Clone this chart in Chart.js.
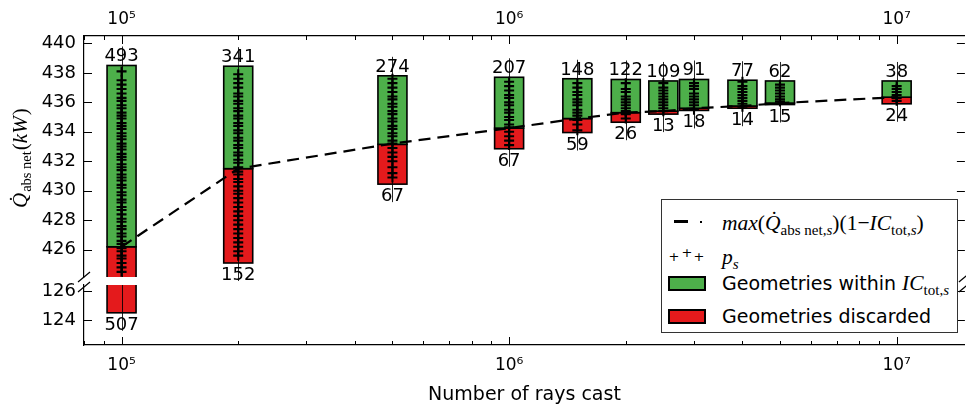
<!DOCTYPE html>
<html><head><meta charset="utf-8">
<script src="https://cdn.jsdelivr.net/npm/chart.js@4/dist/chart.umd.min.js"></script>
<style>
html,body{margin:0;padding:0;background:#fff;overflow:hidden;width:966px;height:408px;}
#wrap{position:relative;width:966px;height:408px;overflow:hidden;}
.cv{position:absolute;left:0;top:0;}
#legend{position:absolute;left:661px;top:199px;width:297px;height:134px;border:1px solid #333;background:#fff;box-sizing:border-box;font-family:'DejaVu Sans';color:#000;}
#legend .row{position:absolute;left:60px;height:30px;line-height:30px;white-space:nowrap;}
#legend .m{font-family:'Liberation Serif';font-size:21.5px;}
#legend .m i{font-style:italic;}
#legend sub{font-size:0.7em;vertical-align:-0.3em;line-height:0;}
#legend .t{font-size:19px;}
#legend .sw{position:absolute;left:6px;width:38px;height:15px;border:2px solid #000;box-sizing:border-box;}
#legend .pl{position:absolute;font-size:13px;line-height:13px;transform:translate(-50%,-50%);}
</style></head>
<body><div id="wrap">
<canvas id="upper" class="cv" width="972" height="408"></canvas>
<canvas id="lower" class="cv" width="972" height="408"></canvas>
<div id="legend">
  <div style="position:absolute;left:12px;top:20px;width:14px;height:3px;background:#000"></div>
  <div style="position:absolute;left:38px;top:21px;width:2px;height:2px;background:#000"></div>
  <div class="row m" style="top:8px"><i>max</i>(<i>Q&#775;</i><sub>abs net,<i>s</i></sub>)(1&#8722;<i>IC</i><sub>tot,<i>s</i></sub>)</div>
  <span class="pl" style="left:12px;top:56px">+</span>
  <span class="pl" style="left:25px;top:52px">+</span>
  <span class="pl" style="left:37px;top:56px">+</span>
  <div class="row m" style="top:42px"><i>p</i><sub><i>s</i></sub></div>
  <div class="sw" style="top:76px;background:#4daf4a"></div>
  <div class="row" style="top:68px"><span class="t">Geometries within </span><span class="m"><i>IC</i><sub>tot,<i>s</i></sub></span></div>
  <div class="sw" style="top:109px;background:#e41a1c"></div>
  <div class="row t" style="top:101px">Geometries discarded</div>
</div>
</div>
<script>
// ---------------- data ----------------
const rays = [1e5, 2e5, 5e5, 1e6, 1.5e6, 2e6, 2.5e6, 3e6, 4e6, 5e6, 1e7];
const withinTop      = [438.5, 438.45, 437.8, 437.7, 437.6, 437.55, 437.45, 437.55, 437.5, 437.45, 437.45];
const withinBottom   = [426.2, 431.5, 433.15, 434.25, 434.9, 435.3, 435.4, 435.6, 435.75, 435.95, 436.35];
const discardedTop   = [426.2, 431.5, 433.15, 434.25, 434.9, 435.3, 435.4, 435.6, 435.75, 435.95, 436.35];
const discardedBottom= [124.5, 425.1, 430.45, 432.85, 433.95, 434.65, 435.2, 435.45, 435.6, 435.85, 435.9];
const thresholdQ     = [426.2, 431.5, 433.2, 434.25, 434.9, 435.3, 435.4, 435.6, 435.75, 435.95, 436.35];
const withinCount    = [493, 341, 274, 207, 148, 122, 109, 91, 77, 62, 38];
const discardedCount = [507, 152, 67, 67, 59, 26, 13, 18, 14, 15, 24];

const ps1e5 = [438.1, 437.5, 437.2, 436.9, 436.6, 436.3, 436.1, 435.8, 435.6, 435.3, 435.1, 434.9, 434.6, 434.4, 434.2, 433.9, 433.7, 433.5, 433.2, 433.0, 432.8, 432.5, 432.3, 432.1, 431.8, 431.6, 431.4, 431.1, 430.9, 430.7, 430.4, 430.2, 429.9, 429.7, 429.4, 429.2, 428.9, 428.7, 428.4, 428.1, 427.9, 427.6, 427.4, 427.1, 426.9, 426.6, 426.4, 426.1, 425.9, 425.6, 425.4, 425.1, 424.8, 424.5];
const ps2e5 = [437.9, 437.6, 437.3, 437.0, 436.6, 436.4, 436.1, 435.9, 435.6, 435.4, 435.1, 434.9, 434.6, 434.4, 434.1, 433.9, 433.6, 433.4, 433.1, 432.9, 432.6, 432.4, 432.1, 431.9, 431.6, 431.3, 431.1, 430.8, 430.6, 430.3, 430.0, 429.8, 429.5, 429.2, 428.9, 428.6, 428.3, 428.0, 427.7, 427.4, 427.1, 426.8, 426.5, 426.2, 425.9, 425.6];
const ps5e5 = [437.6, 437.3, 437.0, 436.7, 436.4, 436.2, 435.9, 435.7, 435.4, 435.2, 434.9, 434.7, 434.4, 434.2, 433.9, 433.7, 433.4, 433.2, 432.9, 432.6, 432.3, 432.0, 431.6, 431.2, 430.9];
const ps1e6 = [437.4, 437.1, 436.8, 436.5, 436.3, 436.0, 435.8, 435.5, 435.3, 435.0, 434.8, 434.5, 434.3, 434.0, 433.7, 433.4, 433.1];
const ps15e5 = [437.3, 437.0, 436.7, 436.5, 436.2, 436.0, 435.8, 435.5, 435.3, 435.1, 434.8, 434.5, 434.1];
const ps2e6 = [437.3, 436.9, 436.7, 436.4, 436.2, 436.0, 435.8, 435.6, 435.4, 435.2, 434.9];
const ps25e5 = [437.3, 437.0, 436.8, 436.6, 436.4, 436.2, 436.0, 435.8, 435.6, 435.4];
const ps3e6 = [437.3, 437.1, 436.9, 436.6, 436.4, 436.2, 436.0, 435.8, 435.5];
const ps4e6 = [437.4, 437.1, 436.9, 436.7, 436.5, 436.3, 436.1, 435.9, 435.7];
const ps5e6 = [437.2, 437.0, 436.8, 436.6, 436.4, 436.2, 436.05];
const ps1e7 = [437.1, 436.9, 436.7, 436.5, 436.3, 436.1];
const psByRays = [ps1e5, ps2e5, ps5e5, ps1e6, ps15e5, ps2e6, ps25e5, ps3e6, ps4e6, ps5e6, ps1e7];

const xTickValues = [1e5, 1e6, 1e7];
const xTickLabels = ['10\u2075', '10\u2076', '10\u2077'];
const yTicksUpper = [426, 428, 430, 432, 434, 436, 438, 440];
const yTicksLower = [124, 126];

// ---------------- helpers ----------------
const GREEN = '#4daf4a', RED = '#e41a1c';
Chart.defaults.font.family = "'DejaVu Sans'";
Chart.defaults.color = '#000';

function line(ctx, x0, y0, x1, y1){ctx.beginPath();ctx.moveTo(x0,y0);ctx.lineTo(x1,y1);ctx.stroke();}

const inwardTicks = {
  id: 'inwardTicks',
  afterDraw(chart, args, opts){
    const {ctx, chartArea: a} = chart;
    const x = chart.scales.x, y = chart.scales.y;
    ctx.save(); ctx.strokeStyle = '#000'; ctx.lineWidth = 1;
    const edge = opts.xEdge === 'top' ? a.top : a.bottom;
    const dir = opts.xEdge === 'top' ? 1 : -1;
    for (let d = 1e4; d <= 1e7; d *= 10){
      for (let m = 1; m <= 9; m++){
        const v = m * d;
        if (v < x.min || v > x.max) continue;
        const px = Math.round(x.getPixelForValue(v)) + 0.5;
        line(ctx, px, edge, px, edge + dir * (m === 1 ? 8 : 4));
      }
    }
    for (const v of opts.yTicks){
      const py = Math.round(y.getPixelForValue(v)) + 0.5;
      line(ctx, a.left, py, a.left + 8, py);
      line(ctx, a.right, py, a.right - 8, py);
    }
    ctx.lineWidth = 1.2;
    const by = opts.xEdge === 'top' ? a.bottom : a.top + 2;
    for (const bx of [a.left, a.right]){
      line(ctx, bx - 6, by + 5, bx + 6, by - 5);
    }
    ctx.restore();
  }
};

const barOutlines = {
  id: 'barOutlines',
  afterDatasetDraw(chart, args){
    if (args.index > 1) return;
    const {ctx, chartArea: a} = chart;
    const meta = args.meta;
    ctx.save();
    ctx.beginPath(); ctx.rect(a.left, a.top, a.right - a.left, a.bottom - a.top); ctx.clip();
    ctx.strokeStyle = '#000'; ctx.lineWidth = 1.6;
    meta.data.forEach(el => {
      const top = Math.min(el.y, el.base), bot = Math.max(el.y, el.base);
      const l = el.x - el.width / 2;
      ctx.strokeRect(l, Math.max(top, a.top - 5), el.width, Math.min(bot, a.bottom + 5) - Math.max(top, a.top - 5));
    });
    ctx.restore();
  }
};

const countLabels = {
  id: 'countLabels',
  afterDatasetsDraw(chart){
    const {ctx, chartArea: a} = chart;
    const g = chart.getDatasetMeta(0), r = chart.getDatasetMeta(1);
    ctx.save();
    ctx.font = "18px 'DejaVu Sans'"; ctx.fillStyle = '#000';
    ctx.textAlign = 'center'; ctx.textBaseline = 'alphabetic';
    ctx.strokeStyle = 'rgba(0,0,0,0.85)'; ctx.lineWidth = 1;
    rays.forEach((v, i) => {
      const ge = g.data[i], re = r.data[i];
      const gTop = Math.min(ge.y, ge.base), rBot = Math.max(re.y, re.base);
      if (gTop > a.bottom || rBot < a.top) return;
      const topIn = gTop >= a.top && gTop <= a.bottom;
      const botIn = rBot >= a.top && rBot <= a.bottom;
      const x = Math.round(ge.x) + 0.5;
      line(ctx, x, topIn ? gTop - 19 : a.top, x, botIn ? rBot + 18 : a.bottom);
      if (topIn) ctx.fillText(String(withinCount[i]), ge.x, gTop - 4);
      if (botIn) ctx.fillText(String(discardedCount[i]), re.x, rBot + 17);
    });
    ctx.restore();
  }
};

const yTitle = {
  id: 'yTitle',
  afterDraw(chart){
    const ctx = chart.ctx;
    ctx.save();
    ctx.translate(27, 208); ctx.rotate(-Math.PI / 2);
    ctx.fillStyle = '#000'; ctx.textBaseline = 'alphabetic'; ctx.textAlign = 'left';
    let x = 0;
    ctx.font = "italic 21px 'Liberation Serif'";
    ctx.fillText('Q\u0307', x, 0); x += ctx.measureText('Q').width + 1;
    ctx.font = "14.5px 'Liberation Serif'";
    ctx.fillText('abs net', x, 4); x += ctx.measureText('abs net').width + 1;
    ctx.font = "21px 'Liberation Serif'";
    ctx.fillText('(', x, 0); x += ctx.measureText('(').width;
    ctx.font = "italic 21px 'Liberation Serif'";
    ctx.fillText('kW', x, 0); x += ctx.measureText('kW').width + 1;
    ctx.font = "21px 'Liberation Serif'";
    ctx.fillText(')', x, 0);
    ctx.restore();
  }
};

function datasets(){
  return [
    { type: 'bar', label: 'Geometries within', data: rays.map((v,i)=>({x:v, y:[withinBottom[i], withinTop[i]]})),
      backgroundColor: GREEN, borderColor: '#000', borderWidth: 0, borderSkipped: false, inflateAmount: 0,
      barThickness: 29, grouped: false, order: 3, clip: 0 },
    { type: 'bar', label: 'Geometries discarded', data: rays.map((v,i)=>({x:v, y:[discardedBottom[i], discardedTop[i]]})),
      backgroundColor: RED, borderColor: '#000', borderWidth: 0, borderSkipped: false, inflateAmount: 0,
      barThickness: 29, grouped: false, order: 3, clip: 0 },
    { type: 'line', label: 'threshold', data: rays.map((v,i)=>({x:v, y:thresholdQ[i]})),
      borderColor: '#000', borderWidth: 2.2, borderDash: [12, 7], pointRadius: 0, fill: false, order: 2, clip: 0 },
    { type: 'scatter', label: 'ps', data: rays.flatMap((v,i)=>psByRays[i].map(q=>({x:v, y:q}))),
      pointStyle: 'cross', pointRadius: 5, borderColor: '#000', borderWidth: 2.1, backgroundColor: '#000', order: 1, clip: 0 }
  ];
}

function xScale(position, extra){
  return Object.assign({
    type: 'logarithmic', position, min: 8e4, max: 1.5e7, offset: false,
    grid: { display: false, drawTicks: false },
    border: { display: true, color: '#000', width: 1.2 },
    ticks: { font: { size: 17 }, color: '#000', maxRotation: 0, autoSkip: false, padding: position === 'top' ? 6 : 10,
      callback: (v) => { const k = xTickValues.indexOf(v); return k >= 0 ? xTickLabels[k] : ''; } },
    afterBuildTicks: (s) => { s.ticks = xTickValues.map(v => ({ value: v })); }
  }, extra);
}
function yScale(min, max, ticks){
  return {
    type: 'linear', position: 'left', min, max, beginAtZero: false,
    grid: { display: false, drawTicks: false },
    border: { display: true, color: '#000', width: 1.2 },
    ticks: { font: { size: 18 }, color: '#000', padding: 8 },
    afterBuildTicks: (s) => { s.ticks = ticks.map(v => ({ value: v })); },
    afterFit: (s) => { s.width = 84; }
  };
}

const common = { responsive: false, animation: false, events: [],
  plugins: { legend: { display: false }, tooltip: { enabled: false } } };

new Chart(document.getElementById('upper'), {
  type: 'bar',
  data: { datasets: datasets() },
  options: Object.assign({}, common, {
    layout: { padding: { top: 0, bottom: 131, left: 0, right: 4 } },
    scales: {
      x: xScale('top', { afterFit: (s) => { s.height = 36; } }),
      y: yScale(424.15, 440.5, yTicksUpper)
    },
    plugins: Object.assign({}, common.plugins, { inwardTicks: { xEdge: 'top', yTicks: yTicksUpper } })
  }),
  plugins: [barOutlines, inwardTicks, countLabels, yTitle]
});

new Chart(document.getElementById('lower'), {
  type: 'bar',
  data: { datasets: datasets() },
  options: Object.assign({}, common, {
    layout: { padding: { top: 285, bottom: 0, left: 0, right: 4 } },
    scales: {
      x: xScale('bottom', {
        title: { display: true, text: 'Number of rays cast', font: { size: 19 }, color: '#000', padding: { top: 0, bottom: 2 } },
        afterFit: (s) => { s.height = 63; } }),
      y: yScale(122.3, 126.4, yTicksLower)
    },
    plugins: Object.assign({}, common.plugins, { inwardTicks: { xEdge: 'bottom', yTicks: yTicksLower } })
  }),
  plugins: [barOutlines, inwardTicks, countLabels]
});
</script>
</body></html>
